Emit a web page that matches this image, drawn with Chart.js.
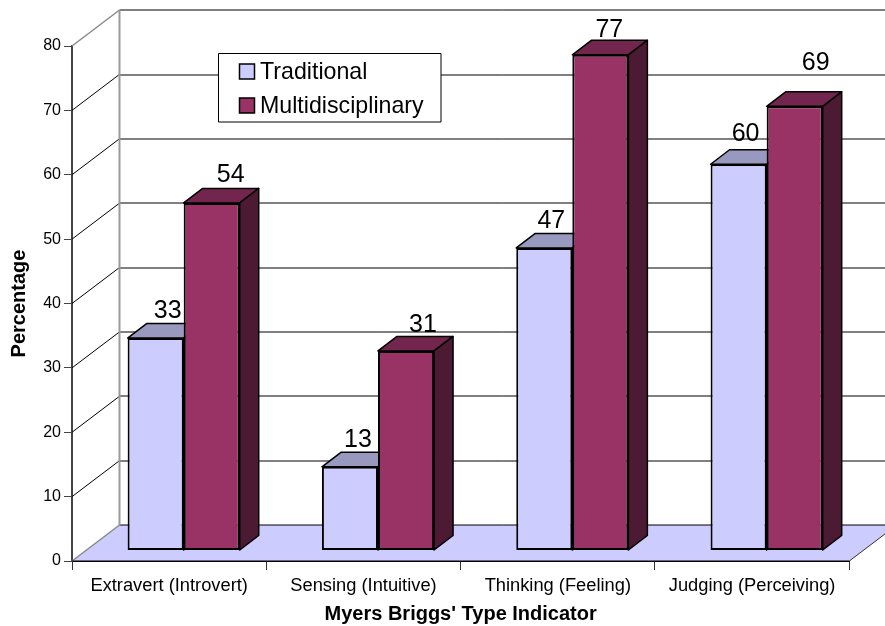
<html>
    <head>
        <title>Myers Briggs chart</title>
        <meta charset="utf-8" />
        <style>
            body { margin: 0; background: #fff; }
            canvas { display: block; }
        </style>
        <script src="https://cdn.jsdelivr.net/npm/chart.js"></script>
    </head>
    <body>
        <canvas id="chart" width="885" height="626"></canvas>

        <script>
        const categories = ["Extravert (Introvert)", "Sensing (Intuitive)", "Thinking (Feeling)", "Judging (Perceiving)"];
        const traditional = [33, 13, 47, 60];
        const multidisciplinary = [54, 31, 77, 69];

        // the labels in the picture are not placed evenly, so nudge them by hand
        const traditionalLabelNudge = [[-7, -6], [-11, -5], [-12, -5], [-12, -8.5]];
        const multiLabelNudge = [[0, -6], [-2, -4], [-10, -3], [2, -21.5]];

        const FONT = "'Liberation Sans', Arial, sans-serif";
        const WALL_DX = 47.5, WALL_DY = -36;    // front of the box to the back wall
        const BAR_DX = 14.5, BAR_DY = -10.5;    // front of the box to the front of the bars
        const DEPTH_DX = 19, DEPTH_DY = -14.5;  // depth of one bar

        const seriesColors = [
            { front: "#CCCCFF", top: "#9999BF", side: "#666680" },
            { front: "#993366", top: "#73264D", side: "#4D1A33" }
        ];

        function poly(ctx, points, fill, stroke, width) {
            ctx.beginPath();
            points.forEach((p, i) => i ? ctx.lineTo(p[0], p[1]) : ctx.moveTo(p[0], p[1]));
            ctx.closePath();
            if (fill) { ctx.fillStyle = fill; ctx.fill(); }
            if (stroke) { ctx.strokeStyle = stroke; ctx.lineWidth = width; ctx.stroke(); }
        }

        function line(ctx, x1, y1, x2, y2) {
            ctx.beginPath();
            ctx.moveTo(x1, y1);
            ctx.lineTo(x2, y2);
            ctx.stroke();
        }

        // floor, back wall and the slanted grid lines, then the depth of the bars
        const boxPlugin = {
            id: "box",
            beforeDatasetsDraw(chart) {
                const ctx = chart.ctx, a = chart.chartArea, y = chart.scales.y;
                const zero = y.getPixelForValue(0), top = y.getPixelForValue(80);
                const wallX = a.left + WALL_DX;
                ctx.save();
                poly(ctx, [[a.left, zero], [wallX, zero + WALL_DY], [a.right + WALL_DX, zero + WALL_DY], [a.right, zero]], "#CCCCFF", null);

                ctx.strokeStyle = "#000";
                ctx.lineWidth = 1;
                y.ticks.forEach(t => {
                    const py = y.getPixelForValue(t.value);
                    const wy = Math.round(py + WALL_DY + 0.2);
                    line(ctx, wallX, wy, a.right + WALL_DX, wy);
                    if (t.value !== 0 && t.value !== 80) line(ctx, a.left, py, wallX, py + WALL_DY);
                });

                // the outline of the wall is lighter than the grid
                ctx.strokeStyle = "#888";
                ctx.lineWidth = 1.5;
                line(ctx, a.left, top, wallX, top + WALL_DY);
                line(ctx, a.left, zero, wallX, zero + WALL_DY);
                ctx.strokeStyle = "#999";
                ctx.lineWidth = 2;
                line(ctx, wallX, zero + WALL_DY, wallX, top + WALL_DY);

                ctx.strokeStyle = "#333";
                ctx.lineWidth = 1;
                line(ctx, a.right, zero, a.right + WALL_DX, zero + WALL_DY);
                ctx.strokeStyle = "#000";
                line(ctx, a.left, zero, a.right, zero);
                ctx.restore();

                // bars stand a bit behind the front of the box
                ctx.save();
                ctx.translate(BAR_DX, BAR_DY);
                ctx.lineJoin = "round";
                chart.data.datasets.forEach((d, ds) => {
                    const c = seriesColors[ds];
                    chart.getDatasetMeta(ds).data.forEach(bar => {
                        const p = bar.getProps(["x", "y", "base", "width"]);
                        const l = p.x - p.width / 2, r = p.x + p.width / 2;
                        poly(ctx, [[l, p.y], [l + DEPTH_DX, p.y + DEPTH_DY], [r + DEPTH_DX, p.y + DEPTH_DY], [r, p.y]], c.top, "#000", 1.5);
                        poly(ctx, [[r, p.y], [r + DEPTH_DX, p.y + DEPTH_DY], [r + DEPTH_DX, p.base + DEPTH_DY], [r, p.base]], c.side, "#000", 1.5);
                    });
                });
            },
            afterDatasetsDraw(chart) {
                const ctx = chart.ctx;
                ctx.restore();

                // value labels
                ctx.save();
                ctx.fillStyle = "#000";
                ctx.font = "25px " + FONT;
                ctx.textAlign = "center";
                ctx.textBaseline = "alphabetic";
                [traditionalLabelNudge, multiLabelNudge].forEach((nudge, ds) => {
                    chart.getDatasetMeta(ds).data.forEach((bar, i) => {
                        const p = bar.getProps(["x", "y"]);
                        ctx.fillText(chart.data.datasets[ds].data[i],
                            p.x + BAR_DX + DEPTH_DX + nudge[i][0],
                            p.y + BAR_DY + DEPTH_DY + nudge[i][1]);
                    });
                });

                // legend box sits on top of the grid
                poly(ctx, [[218.5, 53.5], [441, 53.5], [441, 122], [218.5, 122]], "#fff", "#000", 1);
                ctx.font = "23.2px " + FONT;
                ctx.textAlign = "left";
                ctx.textBaseline = "middle";
                chart.data.datasets.forEach((d, i) => {
                    const top = 64 + i * 34;
                    poly(ctx, [[239.5, top], [254.5, top], [254.5, top + 15], [239.5, top + 15]], seriesColors[i].front, "#000", 1.5);
                    ctx.fillStyle = "#000";
                    ctx.fillText(d.label, 260, top + 8.5);
                });
                ctx.restore();
            }
        };

        new Chart(document.getElementById("chart"), {
            type: "bar",
            data: {
                labels: categories,
                datasets: [
                    { label: "Traditional", data: traditional, backgroundColor: seriesColors[0].front },
                    { label: "Multidisciplinary", data: multidisciplinary, backgroundColor: seriesColors[1].front }
                ]
            },
            options: {
                responsive: false,
                animation: false,
                clip: false,
                layout: { padding: { top: 46, right: 35.7, left: 0, bottom: 0 } },
                datasets: {
                    bar: {
                        categoryPercentage: 0.577,
                        barPercentage: 1,
                        borderColor: "#000",
                        borderWidth: 2,
                        borderSkipped: false
                    }
                },
                plugins: {
                    legend: { display: false },
                    tooltip: { enabled: false }
                },
                scales: {
                    x: {
                        afterFit(s) { s.height = 65; },
                        grid: { drawOnChartArea: false, tickLength: 9, color: "#333", lineWidth: 1 },
                        border: { color: "#000", width: 1 },
                        ticks: { color: "#000", font: { family: FONT, size: 18.3 }, padding: 5, maxRotation: 0, autoSkip: false },
                        title: { display: true, text: "Myers Briggs' Type Indicator", color: "#000", font: { family: FONT, size: 20, weight: "bold" }, padding: 0 }
                    },
                    y: {
                        min: 0,
                        max: 80,
                        afterFit(s) { s.width = 72; },
                        grid: { drawOnChartArea: false, tickLength: 8, color: "#444", lineWidth: 1 },
                        border: { color: "#444", width: 2 },
                        ticks: { stepSize: 10, color: "#000", font: { family: FONT, size: 16 }, padding: 3 },
                        title: { display: true, text: "Percentage", color: "#000", font: { family: FONT, size: 20, weight: "bold" }, padding: { top: 7, bottom: 0 } }
                    }
                }
            },
            plugins: [boxPlugin]
        });
        </script>
    </body>
</html>
